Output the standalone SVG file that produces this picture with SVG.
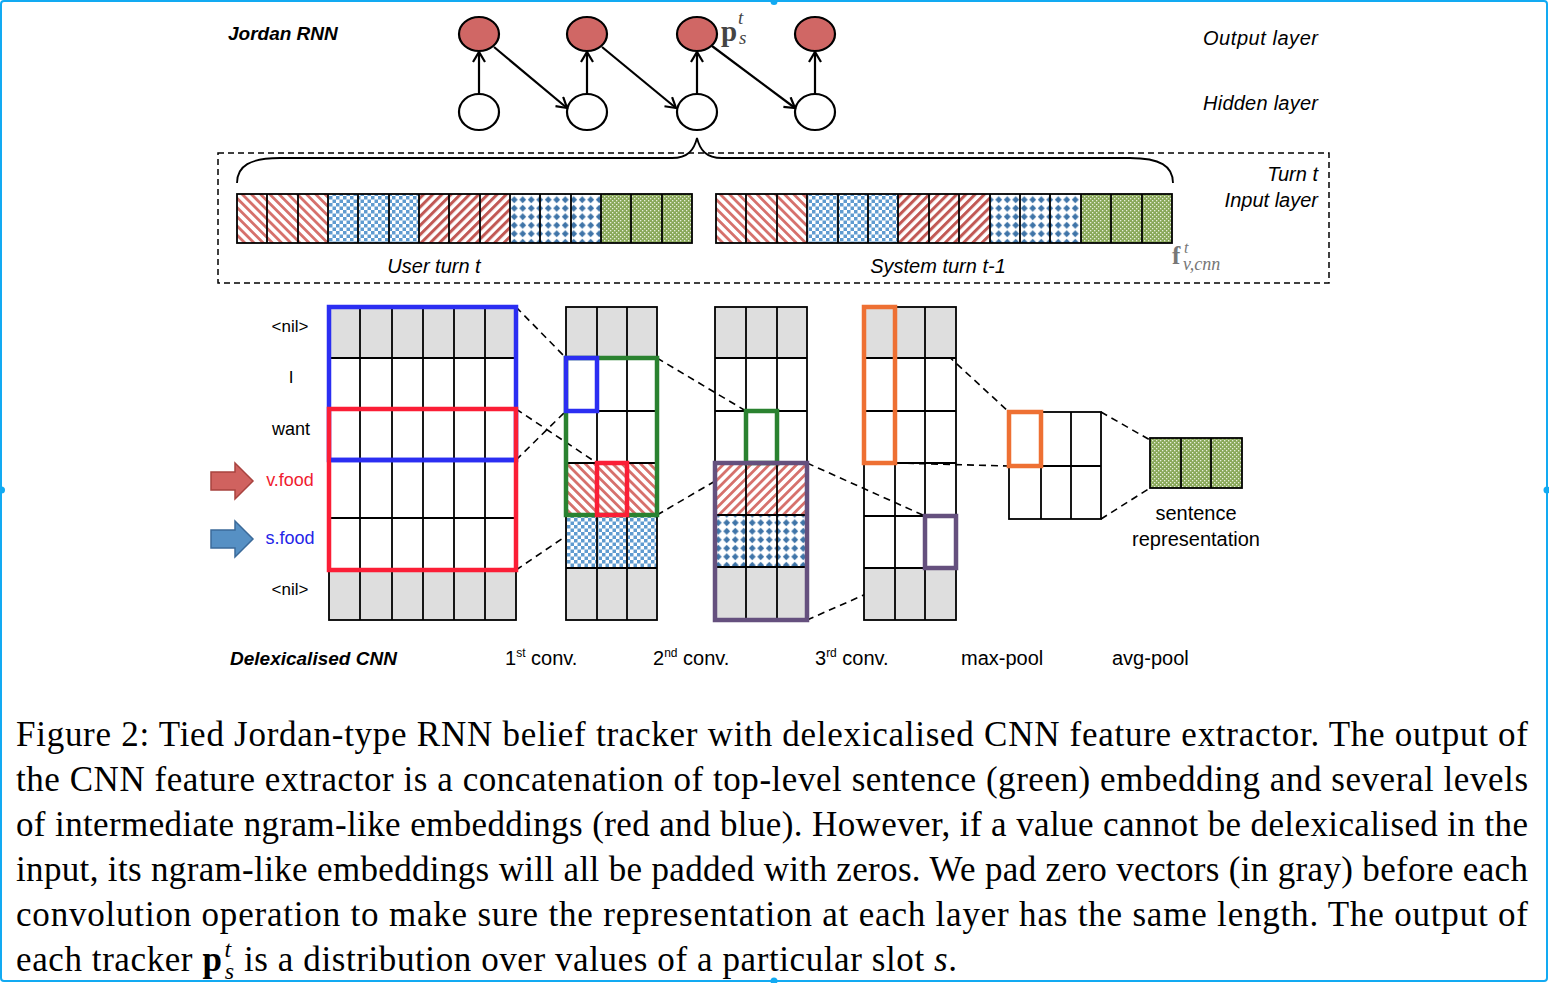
<svg xmlns="http://www.w3.org/2000/svg" width="1549" height="983" viewBox="0 0 1549 983">
<style>
.lbl{font-family:"Liberation Sans",Arial,sans-serif;fill:#000}
.it{font-style:italic}
.bi{font-style:italic;font-weight:bold}
.cap{font-family:"Liberation Serif","Times New Roman",serif;font-size:35px;fill:#000}
.node{stroke:#000;stroke-width:2.2}
.out{fill:#d06765}
.hid{fill:#fff}
.arr{stroke:#000;stroke-width:2.2;fill:none;marker-end:url(#chev)}
.dash{stroke:#000;stroke-width:1.6;fill:none;stroke-dasharray:7 5}
.grid{stroke:#000;stroke-width:1.8;fill:none}
.gray{fill:#dedede}
.hb{fill:none;stroke-width:4.5}
.math{font-family:"Liberation Serif","Times New Roman",serif}
</style>
<defs>
<marker id="chev" markerUnits="userSpaceOnUse" markerWidth="16" markerHeight="16" refX="12" refY="7" orient="auto">
<path d="M2,1 L12,7 L2,13" fill="none" stroke="#000" stroke-width="2.2"/>
</marker>
<pattern id="pRedB" patternUnits="userSpaceOnUse" width="6.5" height="6.5" patternTransform="rotate(-45)">
<rect width="6.5" height="6.5" fill="#fff"/><rect width="2.8" height="6.5" fill="#d6716c"/>
</pattern>
<pattern id="pRedF" patternUnits="userSpaceOnUse" width="6.5" height="6.5" patternTransform="rotate(45)">
<rect width="6.5" height="6.5" fill="#fff"/><rect width="3" height="6.5" fill="#c15854"/>
</pattern>
<pattern id="pRedFL" patternUnits="userSpaceOnUse" width="6.5" height="6.5" patternTransform="rotate(45)">
<rect width="6.5" height="6.5" fill="#fff"/><rect width="2.8" height="6.5" fill="#d6716c"/>
</pattern>
<pattern id="pChk" patternUnits="userSpaceOnUse" width="7" height="7">
<rect width="7" height="7" fill="#fff"/><rect width="3.5" height="3.5" fill="#5f9bd0"/><rect x="3.5" y="3.5" width="3.5" height="3.5" fill="#5f9bd0"/>
</pattern>
<pattern id="pDia" patternUnits="userSpaceOnUse" width="8.5" height="8.5">
<rect width="8.5" height="8.5" fill="#fff"/><path d="M4.25,0.8 L7.7,4.25 L4.25,7.7 L0.8,4.25 Z" fill="#3f74a8"/>
</pattern>
<pattern id="pGrn" patternUnits="userSpaceOnUse" width="4" height="4">
<rect width="4" height="4" fill="#89a859"/><rect width="1.3" height="1.3" fill="#e8efdc"/><rect x="2" y="2" width="1.3" height="1.3" fill="#e8efdc"/>
</pattern>
</defs>

<rect id="frame" x="1" y="1" width="1546" height="980" rx="3" fill="#fff" stroke="#12aaf2" stroke-width="2"/>
<g fill="#12aaf2"><circle cx="774" cy="1.5" r="3.5"/><circle cx="1.5" cy="490" r="3.5"/><circle cx="1547" cy="490" r="3.5"/><circle cx="774" cy="981" r="3.5"/></g>

<!-- RNN -->
<text class="lbl bi" x="228" y="40" font-size="19">Jordan RNN</text>
<text class="lbl it" x="1203" y="45" font-size="20" textLength="115">Output layer</text>
<text class="lbl it" x="1203" y="110" font-size="20" textLength="115">Hidden layer</text>

<g id="out1"><ellipse class="node out" cx="479" cy="34" rx="20" ry="17"/></g>
<g id="out2"><ellipse class="node out" cx="587" cy="34" rx="20" ry="17"/></g>
<g id="out3"><ellipse class="node out" cx="697" cy="34" rx="20" ry="17"/>
<text class="math" x="721" y="41" font-weight="bold" font-size="29" fill="#444">p</text>
<text class="math" x="738" y="24" font-style="italic" font-size="19" fill="#444">t</text>
<text class="math" x="739" y="44" font-style="italic" font-size="19" fill="#444">s</text>
</g>
<g id="out4"><ellipse class="node out" cx="815" cy="34" rx="20" ry="17"/></g>
<g id="hid1"><ellipse class="node hid" cx="479" cy="112" rx="20" ry="18"/></g>
<g id="hid2"><ellipse class="node hid" cx="587" cy="112" rx="20" ry="18"/></g>
<g id="hid3"><ellipse class="node hid" cx="697" cy="112" rx="20" ry="18"/></g>
<g id="hid4"><ellipse class="node hid" cx="815" cy="112" rx="20" ry="18"/></g>

<g id="connectors">
<line class="arr" x1="479" y1="94" x2="479" y2="52"/>
<line class="arr" x1="587" y1="94" x2="587" y2="52"/>
<line class="arr" x1="697" y1="94" x2="697" y2="52"/>
<line class="arr" x1="815" y1="94" x2="815" y2="52"/>
<line class="arr" x1="494" y1="47" x2="567" y2="108"/>
<line class="arr" x1="602" y1="47" x2="676" y2="108"/>
<line class="arr" x1="712" y1="46" x2="795" y2="108"/>
<path d="M237,183 C237,166 250,158 280,158 L672,158 C688,158 694,150 697,138 C700,150 706,158 722,158 L1130,158 C1160,158 1173,166 1173,183" fill="none" stroke="#000" stroke-width="1.8"/>
<line class="dash" x1="516" y1="307" x2="566" y2="358"/>
<line class="dash" x1="516" y1="460" x2="566" y2="411"/>
<line class="dash" x1="516" y1="409" x2="597" y2="463"/>
<line class="dash" x1="516" y1="570" x2="597" y2="515"/>
<line class="dash" x1="657" y1="358" x2="746" y2="411"/>
<line class="dash" x1="657" y1="515" x2="746" y2="463"/>
<line class="dash" x1="807" y1="463" x2="925" y2="516"/>
<line class="dash" x1="807" y1="620" x2="925" y2="568"/>
<line class="dash" x1="895" y1="307" x2="1009" y2="412"/>
<line class="dash" x1="895" y1="463" x2="1009" y2="466"/>
<line class="dash" x1="1101" y1="412" x2="1150" y2="440"/>
<line class="dash" x1="1101" y1="519" x2="1150" y2="488"/>
</g>

<!-- Input layer -->
<g id="inputLayer">
<rect x="218" y="153" width="1111" height="130" fill="none" stroke="#000" stroke-width="1.5" stroke-dasharray="6 4"/>
<g id="userTurn">
<rect x="237" y="194" width="91" height="49" fill="url(#pRedB)"/>
<rect x="328" y="194" width="91" height="49" fill="url(#pChk)"/>
<rect x="419" y="194" width="91" height="49" fill="url(#pRedF)"/>
<rect x="510" y="194" width="91" height="49" fill="url(#pDia)"/>
<rect x="601" y="194" width="91" height="49" fill="url(#pGrn)"/>
<rect class="grid" x="237" y="194" width="455" height="49"/>
<path class="grid" d="M267,194V243M298,194V243M328,194V243M358,194V243M389,194V243M419,194V243M449,194V243M480,194V243M510,194V243M540,194V243M571,194V243M601,194V243M631,194V243M662,194V243"/>
</g>
<g id="systemTurn">
<rect x="716" y="194" width="91" height="49" fill="url(#pRedB)"/>
<rect x="807" y="194" width="91" height="49" fill="url(#pChk)"/>
<rect x="898" y="194" width="92" height="49" fill="url(#pRedF)"/>
<rect x="990" y="194" width="91" height="49" fill="url(#pDia)"/>
<rect x="1081" y="194" width="91" height="49" fill="url(#pGrn)"/>
<rect class="grid" x="716" y="194" width="456" height="49"/>
<path class="grid" d="M746,194V243M777,194V243M807,194V243M838,194V243M868,194V243M898,194V243M929,194V243M959,194V243M990,194V243M1020,194V243M1050,194V243M1081,194V243M1111,194V243M1142,194V243"/>
</g>
<text class="lbl it" x="434" y="273" font-size="20" text-anchor="middle">User turn t</text>
<text class="lbl it" x="938" y="273" font-size="20" text-anchor="middle">System turn t-1</text>
<text class="lbl it" x="1318" y="181" font-size="20" text-anchor="end">Turn t</text>
<text class="lbl it" x="1318" y="207" font-size="20" text-anchor="end">Input layer</text>
<text class="math" x="1172" y="264" font-weight="bold" font-size="25" fill="#777">f</text>
<text class="math" x="1184" y="253" font-style="italic" font-size="16" fill="#777">t</text>
<text class="math" x="1183" y="270" font-style="italic" font-size="18" fill="#777">v,cnn</text>
</g>

<!-- Word labels -->
<g id="words" class="lbl" font-size="17">
<text x="290" y="332" text-anchor="middle">&lt;nil&gt;</text>
<text x="291" y="383" text-anchor="middle">I</text>
<text x="291" y="435" text-anchor="middle" font-size="18">want</text>
<text x="290" y="486" text-anchor="middle" font-size="18" fill="#f01c30">v.food</text>
<text x="290" y="544" text-anchor="middle" font-size="18" fill="#2424e8">s.food</text>
<text x="290" y="595" text-anchor="middle">&lt;nil&gt;</text>
</g>
<g id="arrowV">
<path d="M211,472 L235,472 L235,463 L253,481 L235,499 L235,490 L211,490 Z" fill="#d0625f" stroke="#a8433f" stroke-width="1.5"/>
</g>
<g id="arrowS">
<path d="M211,530 L235,530 L235,521 L253,539 L235,557 L235,548 L211,548 Z" fill="#5690c4" stroke="#3b6a99" stroke-width="1.5"/>
</g>

<!-- Input matrix -->
<g id="inputMatrix">
<rect class="gray" x="329" y="307" width="187" height="51"/>
<rect class="gray" x="329" y="570" width="187" height="50"/>
<rect class="grid" x="329" y="307" width="187" height="313"/>
<path class="grid" d="M360,307V620M392,307V620M423,307V620M454,307V620M485,307V620M329,358H516M329,409H516M329,460H516M329,518H516M329,570H516"/>
<rect class="hb" x="329" y="307" width="187" height="153" stroke="#2b2ef2"/>
<rect class="hb" x="329" y="409" width="187" height="161" stroke="#fb1e36"/>
<line x1="331" y1="460" x2="514" y2="460" stroke="#2b2ef2" stroke-width="4.5"/>
</g>

<!-- 1st conv -->
<g id="conv1">
<rect class="gray" x="566" y="307" width="91" height="51"/>
<rect x="566" y="463" width="91" height="52" fill="url(#pRedB)"/>
<rect x="566" y="515" width="91" height="53" fill="url(#pChk)"/>
<rect class="gray" x="566" y="568" width="91" height="52"/>
<rect class="grid" x="566" y="307" width="91" height="313"/>
<path class="grid" d="M597,307V620M627,307V620M566,358H657M566,411H657M566,463H657M566,515H657M566,568H657"/>
<rect class="hb" x="566" y="358" width="91" height="157" stroke="#2a8230"/>
<rect class="hb" x="566" y="358" width="31" height="53" stroke="#2b2ef2"/>
<rect class="hb" x="597" y="463" width="30" height="52" stroke="#fb1e36"/>
</g>

<!-- 2nd conv -->
<g id="conv2">
<rect class="gray" x="715" y="307" width="92" height="51"/>
<rect x="715" y="463" width="92" height="52" fill="url(#pRedFL)"/>
<rect x="715" y="515" width="92" height="52" fill="url(#pDia)"/>
<rect class="gray" x="715" y="567" width="92" height="53"/>
<rect class="grid" x="715" y="307" width="92" height="313"/>
<path class="grid" d="M746,307V620M777,307V620M715,358H807M715,411H807M715,463H807M715,515H807M715,567H807"/>
<rect class="hb" x="746" y="411" width="31" height="52" stroke="#2a8230"/>
<rect class="hb" x="715" y="463" width="92" height="157" stroke="#65507e"/>
</g>

<!-- 3rd conv -->
<g id="conv3">
<rect class="gray" x="864" y="307" width="92" height="51"/>
<rect class="gray" x="864" y="568" width="92" height="52"/>
<rect class="grid" x="864" y="307" width="92" height="313"/>
<path class="grid" d="M895,307V620M925,307V620M864,358H956M864,411H956M864,463H956M864,516H956M864,568H956"/>
<rect class="hb" x="864" y="307" width="31" height="156" stroke="#ee7033"/>
<rect class="hb" x="925" y="516" width="31" height="52" stroke="#65507e"/>
</g>

<!-- max-pool -->
<g id="maxpool">
<rect x="1009" y="412" width="92" height="107" fill="#fff"/>
<rect class="grid" x="1009" y="412" width="92" height="107"/>
<path class="grid" d="M1041,412V519M1071,412V519M1009,466H1101"/>
<rect class="hb" x="1009" y="412" width="32" height="54" stroke="#ee7033"/>
</g>

<!-- avg-pool -->
<g id="avgpool">
<rect x="1150" y="438" width="92" height="50" fill="url(#pGrn)"/>
<rect class="grid" x="1150" y="438" width="92" height="50"/>
<path class="grid" d="M1181,438V488M1211,438V488"/>
<text class="lbl" x="1196" y="520" font-size="20" text-anchor="middle">sentence</text>
<text class="lbl" x="1196" y="546" font-size="20" text-anchor="middle">representation</text>
</g>

<!-- bottom labels -->
<g id="layerLabels" class="lbl" font-size="20">
<text class="bi" x="230" y="665" font-size="19">Delexicalised CNN</text>
<text x="505" y="665">1<tspan font-size="12" dy="-8">st</tspan><tspan dy="8"> conv.</tspan></text>
<text x="653" y="665">2<tspan font-size="12" dy="-8">nd</tspan><tspan dy="8"> conv.</tspan></text>
<text x="815" y="665">3<tspan font-size="12" dy="-8">rd</tspan><tspan dy="8"> conv.</tspan></text>
<text x="961" y="665">max-pool</text>
<text x="1112" y="665">avg-pool</text>
</g>

<!-- Caption -->
<g id="caption" class="cap">
<text x="16" y="746" textLength="1512" lengthAdjust="spacing">Figure 2: Tied Jordan-type RNN belief tracker with delexicalised CNN feature extractor. The output of</text>
<text x="16" y="791" textLength="1512" lengthAdjust="spacing">the CNN feature extractor is a concatenation of top-level sentence (green) embedding and several levels</text>
<text x="16" y="836" textLength="1512" lengthAdjust="spacing">of intermediate ngram-like embeddings (red and blue). However, if a value cannot be delexicalised in the</text>
<text x="16" y="881" textLength="1512" lengthAdjust="spacing">input, its ngram-like embeddings will all be padded with zeros. We pad zero vectors (in gray) before each</text>
<text x="16" y="926" textLength="1512" lengthAdjust="spacing">convolution operation to make sure the representation at each layer has the same length. The output of</text>
<text x="16" y="971" textLength="941" lengthAdjust="spacing">each tracker <tspan font-weight="bold">p</tspan><tspan dx="2" dy="-14" font-size="24" font-style="italic">t</tspan><tspan dx="-7" dy="22" font-size="24" font-style="italic">s</tspan><tspan dy="-8"> is a distribution over values of a particular slot </tspan><tspan font-style="italic">s</tspan>.</text>
</g>
</svg>
